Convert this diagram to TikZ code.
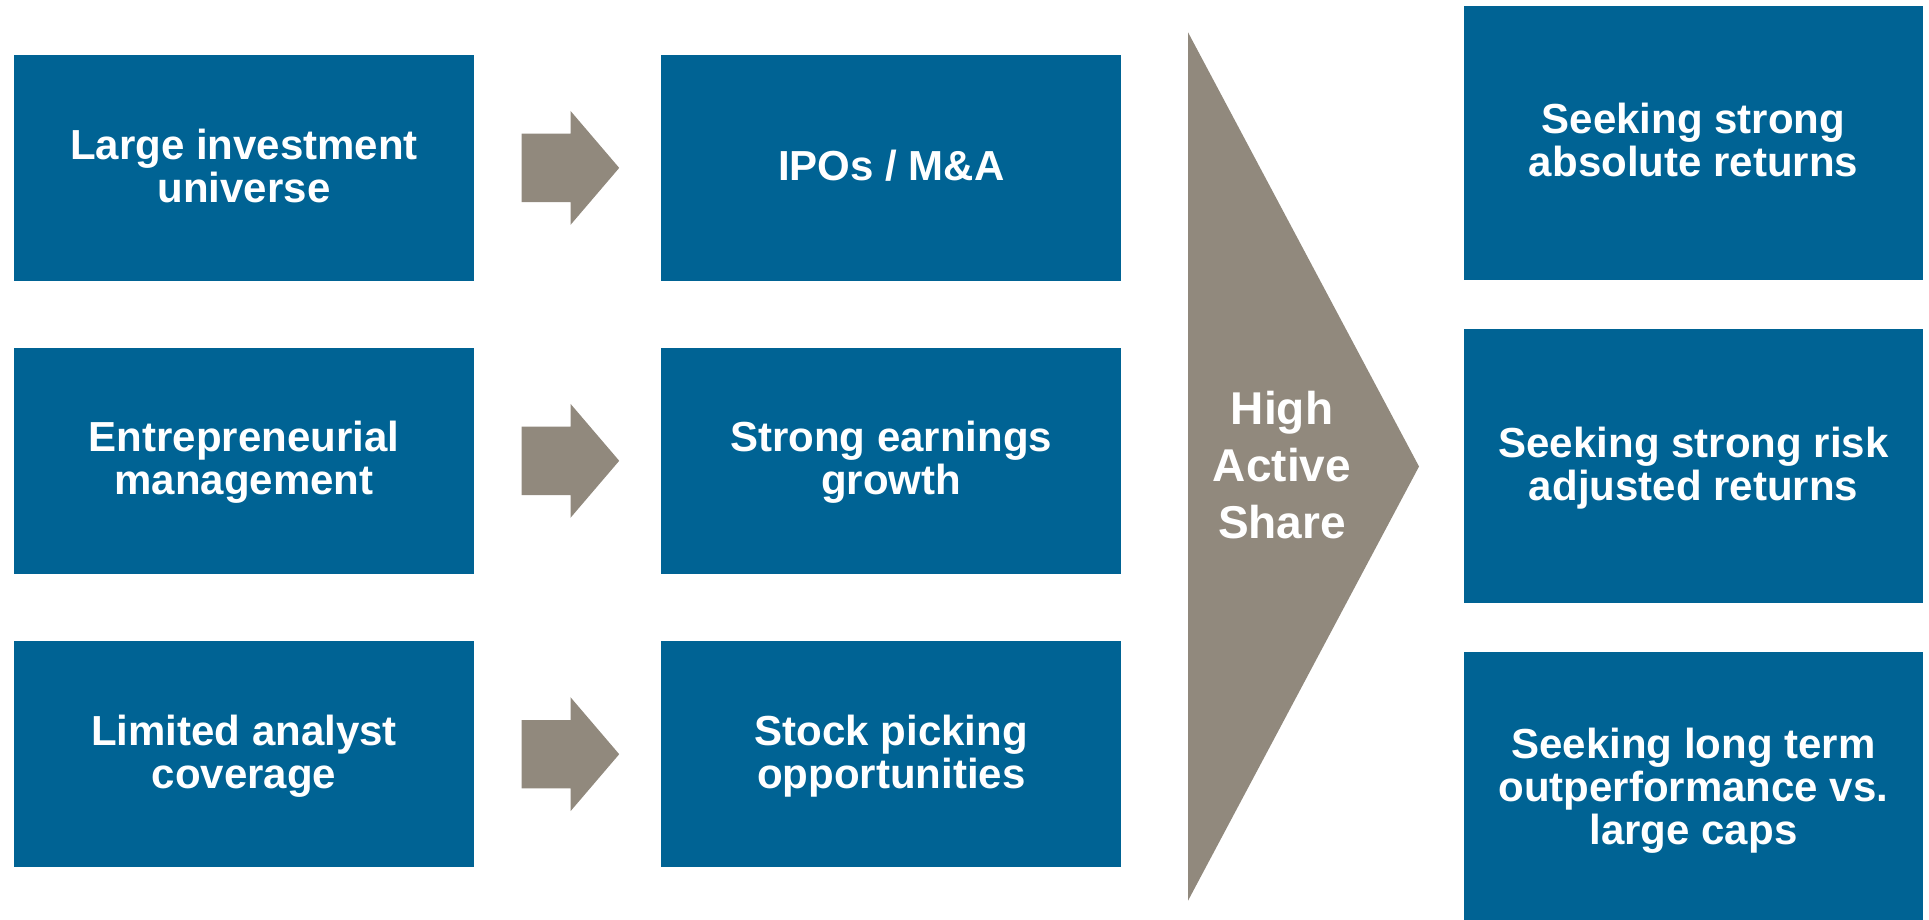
\documentclass[tikz,border=0pt]{standalone}
\usepackage{fontspec}
\setmainfont{Liberation Sans}
\definecolor{boxblue}{RGB}{0,99,148}
\definecolor{stone}{RGB}{145,137,125}
% line strut: fixed ascent/descent so every line is centred alike
\newcommand\lstrut{\rule[-0.21em]{0pt}{1.02em}}
\begin{document}
\begin{tikzpicture}[x=1pt,y=-1pt,
  card/.style={rectangle, fill=boxblue, draw=none, inner sep=0pt,
    minimum width=459.5pt, text=white, align=center,
    font=\fontsize{42}{43}\selectfont\bfseries},
  shortcard/.style={card, minimum height=225.5pt},
  tallcard/.style={card, minimum height=274.3pt},
  blockarrow/.pic={\fill[stone] (-47,-34.2) -- (2,-34.2) -- (2,-57) -- (50.7,0)
      -- (2,57) -- (2,34.2) -- (-47,34.2) -- cycle;}]
\useasboundingbox (0,0) rectangle (1929,920);

% left column: drivers
\node[shortcard] (a1) at (244,167.9) {\lstrut Large investment\\\lstrut universe};
\node[shortcard] (a2) at (244,460.8) {\lstrut Entrepreneurial\\\lstrut management};
\node[shortcard] (a3) at (244,754.2) {\lstrut Limited analyst\\\lstrut coverage};

% middle column: consequences
\node[shortcard] (b1) at (891.2,167.9) {\lstrut IPOs / M\&A};
\node[shortcard] (b2) at (891.2,460.8) {\lstrut Strong earnings\\\lstrut growth};
\node[shortcard] (b3) at (891.2,754.2) {\lstrut Stock picking\\\lstrut opportunities};

% block arrows between the columns
\coordinate (r1) at (568.5,167.9);
\coordinate (r2) at (568.5,460.8);
\coordinate (r3) at (568.5,754.2);
\pic at (r1) {blockarrow};
\pic at (r2) {blockarrow};
\pic at (r3) {blockarrow};

% central wedge
\coordinate (wtop) at (1188,32.3);
\coordinate (wtip) at (1419,466.5);
\coordinate (wbot) at (1188,900.7);
\fill[stone] (wtop) -- (wtip) -- (wbot) -- cycle;
\node[align=center, text=white, inner sep=0pt,
  font=\fontsize{46}{57}\selectfont\bfseries] (share) at (1282,467.9)
  {\lstrut High\\\lstrut Active\\\lstrut Share};

% right column: outcomes
\node[tallcard] (c1) at (1693.5,142.9) {\lstrut Seeking strong\\\lstrut absolute returns};
\node[tallcard] (c2) at (1693.5,466.2) {\lstrut Seeking strong risk\\\lstrut adjusted returns};
\node[tallcard] (c3) at (1693.5,789.2) {\lstrut Seeking long term\\\lstrut outperformance vs.\\\lstrut large caps};
\end{tikzpicture}
\end{document}
